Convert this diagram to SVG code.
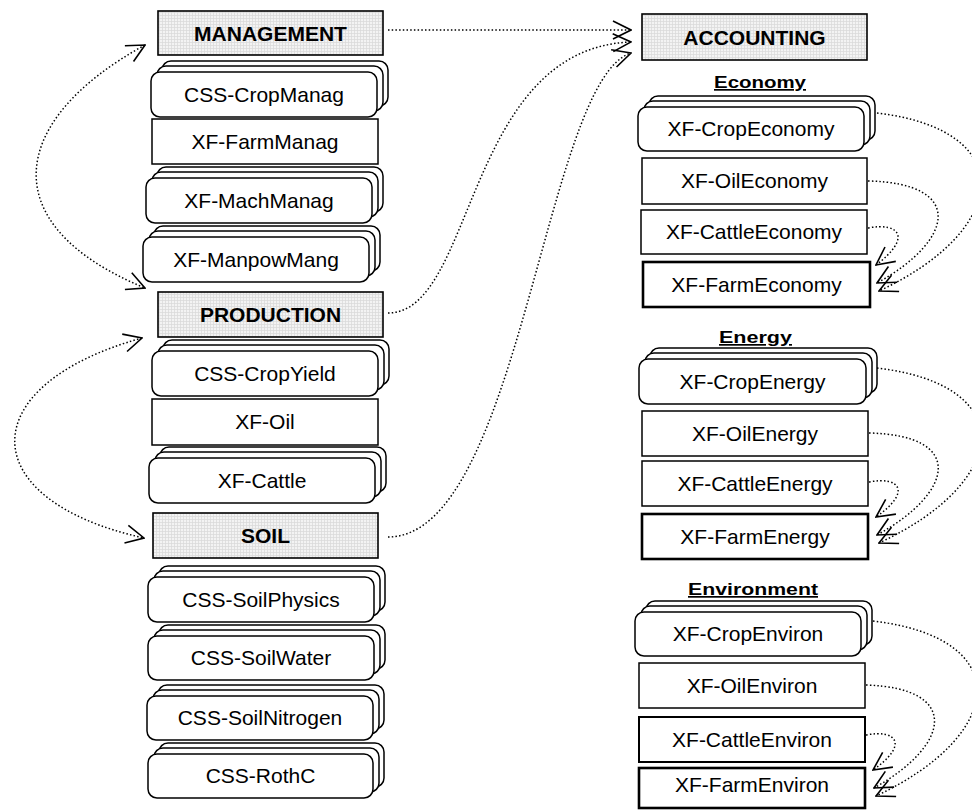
<svg xmlns="http://www.w3.org/2000/svg" width="972" height="810" viewBox="0 0 972 810">
<style>
.hdr{fill:url(#grid);stroke:#000;stroke-width:1.6}
.box{fill:#fff;stroke:#000;stroke-width:1.5}
.thick{fill:#fff;stroke:#000;stroke-width:2.6}
.rr{fill:#fff;stroke:#000;stroke-width:1.5}
.t{font-family:"Liberation Sans",Arial,sans-serif;font-size:21px;text-anchor:middle;fill:#000}
.b{font-family:"Liberation Sans",Arial,sans-serif;font-size:21px;font-weight:bold;text-anchor:middle;fill:#000}
.sec{font-family:"Liberation Sans",Arial,sans-serif;font-size:17px;font-weight:bold;text-anchor:middle;fill:#000;text-decoration:underline}
.c{fill:none;stroke:#000;stroke-width:1.5;stroke-dasharray:1.5 2.2;marker-end:url(#arr)}
.c2{fill:none;stroke:#000;stroke-width:1.5;stroke-dasharray:1.5 2.2;marker-end:url(#arr);marker-start:url(#arr)}
</style>
<defs>
<pattern id="grid" width="3" height="3" patternUnits="userSpaceOnUse">
<rect width="3" height="3" fill="#f3f3f3"/>
<path d="M0,0.5H3M0.5,0V3" stroke="#d9d9d9" stroke-width="0.7"/>
</pattern>
<marker id="arr" viewBox="0 0 20 20" refX="19" refY="10" markerWidth="20" markerHeight="20" markerUnits="userSpaceOnUse" orient="auto-start-reverse">
<path d="M1,1 L19,10 L1,19" fill="none" stroke="#000" stroke-width="1.6"/>
</marker>
</defs>

<g id="connectors">
<path class="c" d="M388,30 L631,30"/>
<path class="c" d="M388,313 C475,313 465,48 631,42"/>
<path class="c" d="M388,537 C520,537 545,80 631,53"/>
<path class="c2" d="M145,45 C8,120 -8,225 145,288"/>
<path class="c2" d="M142,338 C-28,385 -28,500 144,538"/>
<path class="c" d="M877,113 C1020,130 1010,230 879,291"/>
<path class="c" d="M868,181 C965,183 955,240 877,283"/>
<path class="c" d="M868,228 C900,222 912,238 876,265"/>
<path class="c" d="M877,368 C1020,385 1010,482 879,543"/>
<path class="c" d="M869,433 C965,435 955,492 877,535"/>
<path class="c" d="M869,482 C900,476 912,492 876,517"/>
<path class="c" d="M873,621 C1016,638 1006,735 876,796"/>
<path class="c" d="M866,685 C961,688 951,745 874,788"/>
<path class="c" d="M866,735 C897,729 909,745 873,770"/>
</g>

<g id="management">
<rect class="hdr" x="158" y="11" width="225" height="44"/>
<text class="b" x="270.5" y="40.5">MANAGEMENT</text>
</g>
<g id="css-cropmanag">
<rect class="rr" x="162" y="61" width="226" height="45" rx="9"/>
<rect class="rr" x="157" y="66" width="226" height="45" rx="9"/>
<rect class="rr" x="151" y="72" width="226" height="45" rx="9"/>
<text class="t" x="264" y="102">CSS-CropManag</text>
</g>
<g id="xf-farmmanag">
<rect class="box" x="152" y="119" width="226" height="45"/>
<text class="t" x="265" y="149">XF-FarmManag</text>
</g>
<g id="xf-machmanag">
<rect class="rr" x="157" y="167" width="226" height="45" rx="9"/>
<rect class="rr" x="152" y="172" width="226" height="45" rx="9"/>
<rect class="rr" x="146" y="178" width="226" height="45" rx="9"/>
<text class="t" x="259" y="208">XF-MachManag</text>
</g>
<g id="xf-manpowmang">
<rect class="rr" x="154" y="226" width="226" height="45" rx="9"/>
<rect class="rr" x="149" y="231" width="226" height="45" rx="9"/>
<rect class="rr" x="143" y="237" width="226" height="45" rx="9"/>
<text class="t" x="256" y="267">XF-ManpowMang</text>
</g>
<g id="production">
<rect class="hdr" x="158" y="292" width="225" height="45"/>
<text class="b" x="270.5" y="322">PRODUCTION</text>
</g>
<g id="css-cropyield">
<rect class="rr" x="163" y="340" width="226" height="45" rx="9"/>
<rect class="rr" x="158" y="345" width="226" height="45" rx="9"/>
<rect class="rr" x="152" y="351" width="226" height="45" rx="9"/>
<text class="t" x="265" y="381">CSS-CropYield</text>
</g>
<g id="xf-oil">
<rect class="box" x="152" y="399" width="226" height="46"/>
<text class="t" x="265" y="429">XF-Oil</text>
</g>
<g id="xf-cattle">
<rect class="rr" x="160" y="447" width="226" height="45" rx="9"/>
<rect class="rr" x="155" y="452" width="226" height="45" rx="9"/>
<rect class="rr" x="149" y="458" width="226" height="45" rx="9"/>
<text class="t" x="262" y="488">XF-Cattle</text>
</g>
<g id="soil">
<rect class="hdr" x="153" y="513" width="225" height="45"/>
<text class="b" x="265.5" y="543">SOIL</text>
</g>
<g id="css-soilphysics">
<rect class="rr" x="159" y="566" width="226" height="45" rx="9"/>
<rect class="rr" x="154" y="571" width="226" height="45" rx="9"/>
<rect class="rr" x="148" y="577" width="226" height="45" rx="9"/>
<text class="t" x="261" y="607">CSS-SoilPhysics</text>
</g>
<g id="css-soilwater">
<rect class="rr" x="159" y="625" width="226" height="44" rx="9"/>
<rect class="rr" x="154" y="630" width="226" height="44" rx="9"/>
<rect class="rr" x="148" y="636" width="226" height="44" rx="9"/>
<text class="t" x="261" y="665">CSS-SoilWater</text>
</g>
<g id="css-soilnitrogen">
<rect class="rr" x="158" y="685" width="226" height="44" rx="9"/>
<rect class="rr" x="153" y="690" width="226" height="44" rx="9"/>
<rect class="rr" x="147" y="696" width="226" height="44" rx="9"/>
<text class="t" x="260" y="725">CSS-SoilNitrogen</text>
</g>
<g id="css-rothc">
<rect class="rr" x="159" y="743" width="225" height="44" rx="9"/>
<rect class="rr" x="154" y="748" width="225" height="44" rx="9"/>
<rect class="rr" x="148" y="754" width="225" height="44" rx="9"/>
<text class="t" x="260.5" y="783">CSS-RothC</text>
</g>

<g id="accounting">
<rect class="hdr" x="642" y="14" width="225" height="46"/>
<text class="b" x="754.5" y="44.5">ACCOUNTING</text>
</g>

<g id="economy-label">
<text class="sec" x="760" y="88" textLength="92" lengthAdjust="spacingAndGlyphs">Economy</text>
</g>
<g id="xf-cropeconomy">
<rect class="rr" x="649" y="96" width="226" height="44" rx="9"/>
<rect class="rr" x="644" y="101" width="226" height="44" rx="9"/>
<rect class="rr" x="638" y="107" width="226" height="44" rx="9"/>
<text class="t" x="751" y="136">XF-CropEconomy</text>
</g>
<g id="xf-oileconomy">
<rect class="box" x="642" y="158" width="225" height="46"/>
<text class="t" x="754.5" y="188">XF-OilEconomy</text>
</g>
<g id="xf-cattleeconomy">
<rect class="box" x="641" y="210" width="226" height="44"/>
<text class="t" x="754" y="239">XF-CattleEconomy</text>
</g>
<g id="xf-farmeconomy">
<rect class="thick" x="643" y="262" width="227" height="45"/>
<text class="t" x="756.5" y="292">XF-FarmEconomy</text>
</g>

<g id="energy-label">
<text class="sec" x="755.5" y="343" textLength="73" lengthAdjust="spacingAndGlyphs">Energy</text>
</g>
<g id="xf-cropenergy">
<rect class="rr" x="650" y="348" width="227" height="45" rx="9"/>
<rect class="rr" x="645" y="353" width="227" height="45" rx="9"/>
<rect class="rr" x="639" y="359" width="227" height="45" rx="9"/>
<text class="t" x="752.5" y="389">XF-CropEnergy</text>
</g>
<g id="xf-oilenergy">
<rect class="box" x="642" y="411" width="226" height="45"/>
<text class="t" x="755" y="441">XF-OilEnergy</text>
</g>
<g id="xf-cattleenergy">
<rect class="box" x="642" y="461" width="226" height="45"/>
<text class="t" x="755" y="491">XF-CattleEnergy</text>
</g>
<g id="xf-farmenergy">
<rect class="thick" x="642" y="514" width="226" height="45"/>
<text class="t" x="755" y="544">XF-FarmEnergy</text>
</g>

<g id="environment-label">
<text class="sec" x="753" y="595" textLength="130" lengthAdjust="spacingAndGlyphs">Environment</text>
</g>
<g id="xf-cropenviron">
<rect class="rr" x="646" y="601" width="226" height="44" rx="9"/>
<rect class="rr" x="641" y="606" width="226" height="44" rx="9"/>
<rect class="rr" x="635" y="612" width="226" height="44" rx="9"/>
<text class="t" x="748" y="641">XF-CropEnviron</text>
</g>
<g id="xf-oilenviron">
<rect class="box" x="639" y="663" width="226" height="45"/>
<text class="t" x="752" y="693">XF-OilEnviron</text>
</g>
<g id="xf-cattleenviron">
<rect class="thick" x="639" y="717" width="226" height="45" style="stroke-width:2"/>
<text class="t" x="752" y="747">XF-CattleEnviron</text>
</g>
<g id="xf-farmenviron">
<rect class="thick" x="639" y="768" width="226" height="40"/>
<text class="t" x="752" y="792">XF-FarmEnviron</text>
</g>
</svg>
